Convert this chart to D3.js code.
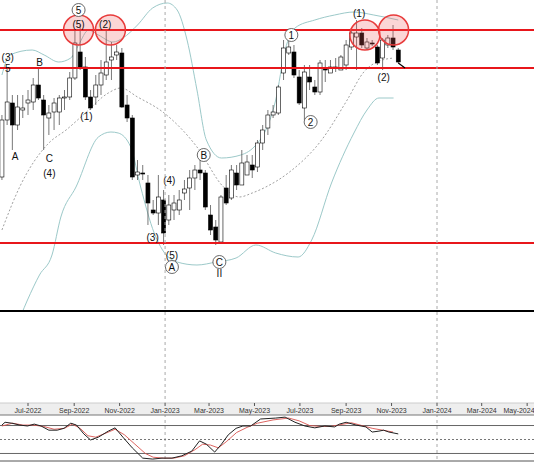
<!DOCTYPE html>
<html><head><meta charset="utf-8">
<script src="https://cdn.jsdelivr.net/npm/d3@7"></script>
<style>body{margin:0;background:#fff}svg{display:block;font-family:"Liberation Sans",Arial,sans-serif}</style>
</head><body><svg id="c" width="534" height="462"></svg>
<script>
// weekly candles: [open, high, low, close]
const firstWeek = "2022-05-27";
const opens  = [123,180,197,175,190,197,198,215,200,182,188,188,202,203,222,248,233,203,203,215,225,240,245,247,195,182,125,127,117,90,87,100,80,90,90,107,112,122,130,127,85,73,58,112,102,127,115,125,135,133,157,172,185,187,227,247,248,223,192,223,213,208,232,227,233,230,235,253,263,267,252,257,253,242,255,262,250];
const highs  = [185,233,205,205,205,210,222,233,205,195,202,205,210,228,270,275,243,210,225,240,270,258,255,252,205,185,140,135,125,100,125,110,105,105,110,120,130,135,140,130,95,80,105,125,135,135,150,145,145,160,175,190,195,215,260,267,255,230,235,235,220,240,240,240,242,245,260,272,280,272,262,260,255,262,265,275,252];
const lows   = [120,175,150,170,182,185,190,200,150,165,170,175,190,200,220,230,200,190,195,205,220,220,240,192,178,120,120,120,75,85,75,55,75,80,85,100,90,110,120,90,65,55,56,95,100,110,120,125,122,128,150,165,182,185,220,245,222,195,180,210,205,205,218,228,228,230,230,250,230,252,250,254,235,230,252,250,237];
const closes = [180,198,175,193,192,200,215,202,185,187,197,202,203,222,257,233,203,192,215,227,238,243,248,193,182,123,128,126,97,87,103,67,95,97,100,111,122,130,127,93,70,60,103,97,130,115,137,138,130,157,170,185,188,213,252,253,225,197,228,218,208,237,230,233,232,243,255,267,267,255,258,256,237,260,262,253,238];
// Bollinger bands: [week, price]
const upperBand = [[0,225],[1.5,245],[5.8,250],[8.1,245],[10.9,238],[13.2,242],[14.7,255],[16.6,270],[18.5,265],[21.3,258],[23.2,262],[26,275],[28.9,292],[31.7,297],[33.6,290],[35.5,260],[37.4,210],[39.2,160],[42.1,142],[45.8,145],[48.7,155],[50.6,170],[52.5,200],[54.3,250],[56.2,272],[60,280],[63.8,285],[67.5,288],[71.3,285],[76,280]];
const middleBand = [[0,70],[3.4,113],[9,157],[12.3,170],[16,187],[20.4,207],[22.8,212],[26,203],[31.1,187],[37.4,153],[42.5,113],[45.5,103],[48,107],[50.6,113],[54.9,127],[61.3,160],[66.2,200],[69.4,228],[71.9,238],[75.1,242]];
const lowerBand = [[0,-60],[2.5,-30],[4.9,0],[7.2,25],[9.6,45],[11.3,83],[14.2,113],[18.5,163],[20.9,168],[22.3,167],[24.7,153],[26.6,113],[29.2,67],[30.8,50],[33.6,38],[37.4,35],[41.1,38],[44.9,42],[48.7,55],[52.5,47],[56.8,43],[59.4,60],[63.2,117],[67.5,167],[70,190],[72.3,202],[75.1,202]];
// stochastic oscillator: [week, value]
const stochK = [[0,81],[0.6,87],[1.9,85],[3.4,81],[4.9,79],[6.2,83],[7.5,79],[9,70],[10.6,70],[11.9,74],[13.2,85],[14.3,81],[15.7,62],[17,49],[18.5,55],[20.4,68],[21.7,75],[23.2,55],[25,32],[27,10],[28.9,8],[30.7,10],[32.6,10],[34.5,15],[36.4,25],[37.9,47],[39.2,40],[40.8,23],[42.1,40],[43.4,60],[44.9,74],[46.2,79],[47.7,79],[49.6,94],[52.5,96],[54.3,98],[56.2,87],[58.1,79],[60,75],[61.9,79],[63.8,77],[64.7,83],[66,87],[67.9,81],[69.8,77],[71,66],[72.3,68],[73.2,70],[74.2,66],[76,62]];
const stochD = [[0,79],[2,85],[4,81],[6,81],[8,78],[10,72],[12,74],[13.5,83],[15,74],[16.5,58],[18,55],[20,64],[21.7,72],[23.5,60],[25.5,40],[27.5,20],[29,12],[31,10],[33,10],[35,15],[37,28],[38.5,40],[40,38],[41.5,32],[43,45],[45,65],[47,76],[49,85],[52,92],[55,96],[57,90],[59,80],[61,78],[63,78],[65,82],[67,86],[69,80],[71,74],[73,70],[75,66]];
const levels = [270,232,57];
const oscLevels = [80,20];
const tickLabels = ["Jul-2022","Sep-2022","Nov-2022","Jan-2023","Mar-2023","May-2023","Jul-2023","Sep-2023","Nov-2023","Jan-2024","Mar-2024","May-2024"];
const tickDates = ["2022-07-01","2022-09-01","2022-11-01","2023-01-01","2023-03-01","2023-05-01","2023-07-01","2023-09-01","2023-11-01","2024-01-01","2024-03-01","2024-05-01"];
// wave annotations: [week, price, text, circled]
const labels = [[1.1,243,"(3)",0],[1.1,232,"5",0],[2.5,144,"A",0],[7.2,238,"B",0],[9.1,142,"C",0],[9.1,127,"(4)",0],[14.7,290,"5",1],[14.7,276,"(5)",0],[19.8,276,"(2)",0],[16.2,184,"(1)",0],[28.9,63,"(3)",0],[32.1,120,"(4)",0],[32.6,45,"(5)",0],[32.6,33,"A",1],[38.7,145,"B",1],[41.7,38,"C",1],[41.7,27,"II",0],[55.5,265,"1",1],[59.2,178,"2",1],[68.5,287,"(1)",0],[73.2,223,"(2)",0]];
const highlights = [[14.7,270],[20.8,270],[69.6,265],[75.1,270]];

const svg = d3.select("#c");
const parse = d3.timeParse("%Y-%m-%d");
const t0 = parse(firstWeek);
const tx = d3.scaleTime().domain([parse("2022-07-01"), parse("2024-01-01")]).range([28,437]);
const wx = w => tx(new Date(+t0 + w*7*864e5));
const y = d3.scaleLinear().domain([0,300]).range([300,0]);
const oy = d3.scaleLinear().domain([0,100]).range([462.8,416.2]);

svg.append("clipPath").attr("id","mc").append("rect").attr("x",0).attr("y",0).attr("width",534).attr("height",310);
const main = svg.append("g").attr("clip-path","url(#mc)");

["2023-01-01","2024-01-01"].forEach(d=>{
  svg.append("line").attr("x1",tx(parse(d))).attr("x2",tx(parse(d))).attr("y1",0).attr("y2",462)
   .attr("stroke","#aaa").attr("stroke-dasharray","3,3");
});

const line = d3.line().x(d=>wx(d[0])).y(d=>y(d[1])).curve(d3.curveMonotoneX);
main.append("path").attr("d",line(upperBand)).attr("fill","none").attr("stroke","#9cc9c9").attr("stroke-width",1);
main.append("path").attr("d",line(lowerBand)).attr("fill","none").attr("stroke","#9cc9c9").attr("stroke-width",1);
main.append("path").attr("d",line(middleBand)).attr("fill","none").attr("stroke","#888").attr("stroke-dasharray","2,2").attr("stroke-width",0.8);

const cw = 4;
opens.forEach((o,i)=>{
  const c = closes[i], x = wx(i);
  main.append("line").attr("x1",x).attr("x2",x).attr("y1",y(highs[i])).attr("y2",y(lows[i])).attr("stroke","#555").attr("stroke-width",0.8);
  const top = y(Math.max(o,c)), bot = y(Math.min(o,c));
  main.append("rect").attr("x",x-cw/2).attr("y",top).attr("width",cw).attr("height",Math.max(1,bot-top))
   .attr("fill", c>=o ? "#fff" : "#000").attr("stroke","#000").attr("stroke-width",0.6);
});

levels.forEach(l=>main.append("line").attr("x1",0).attr("x2",534).attr("y1",y(l)).attr("y2",y(l)).attr("stroke","#e8161b").attr("stroke-width",2));

highlights.forEach(h=>main.append("circle").attr("cx",wx(h[0])).attr("cy",y(h[1])).attr("r",15)
  .attr("fill","rgba(240,90,90,0.25)").attr("stroke","#e83b3b").attr("stroke-width",1.5));

labels.forEach(l=>{
  const g = main.append("g").attr("transform",`translate(${wx(l[0])},${y(l[1])})`);
  if(l[3]) g.append("circle").attr("r",6.5).attr("fill","#fff").attr("stroke","#444").attr("stroke-width",0.8);
  g.append("text").attr("text-anchor","middle").attr("dy","0.35em").attr("font-size",10).attr("fill","#111").text(l[2]);
});
main.append("path").attr("d",`M${wx(76)},${y(237)} L${wx(77.3)},${y(232)}`).attr("stroke","#000").attr("stroke-width",1.2);

svg.append("line").attr("x1",0).attr("x2",534).attr("y1",311).attr("y2",311).attr("stroke","#000").attr("stroke-width",2);

svg.append("rect").attr("x",0).attr("y",403).attr("width",534).attr("height",12).attr("fill","#eee");
svg.append("line").attr("x1",0).attr("x2",534).attr("y1",403).attr("y2",403).attr("stroke","#ccc");
tickDates.forEach((d,i)=>{
  const x = tx(parse(d));
  svg.append("line").attr("x1",x).attr("x2",x).attr("y1",403).attr("y2",406).attr("stroke","#555");
  svg.append("text").attr("x",Math.min(x,519)).attr("y",412.5).attr("text-anchor","middle").attr("font-size",7).attr("fill","#333").text(tickLabels[i]);
});

svg.append("line").attr("x1",0).attr("x2",534).attr("y1",415).attr("y2",415).attr("stroke","#777");
oscLevels.forEach(v=>svg.append("line").attr("x1",0).attr("x2",534).attr("y1",oy(v)).attr("y2",oy(v)).attr("stroke","#666"));
svg.append("line").attr("x1",0).attr("x2",534).attr("y1",oy(50)).attr("y2",oy(50)).attr("stroke","#777").attr("stroke-dasharray","2,2");
const ol = d3.line().x(d=>wx(d[0])).y(d=>oy(d[1]));
svg.append("path").attr("d",ol(stochD)).attr("fill","none").attr("stroke","#d9534f").attr("stroke-width",0.9);
svg.append("path").attr("d",ol(stochK)).attr("fill","none").attr("stroke","#222").attr("stroke-width",1);
svg.append("line").attr("x1",0).attr("x2",534).attr("y1",461).attr("y2",461).attr("stroke","#555");
</script></body></html>
